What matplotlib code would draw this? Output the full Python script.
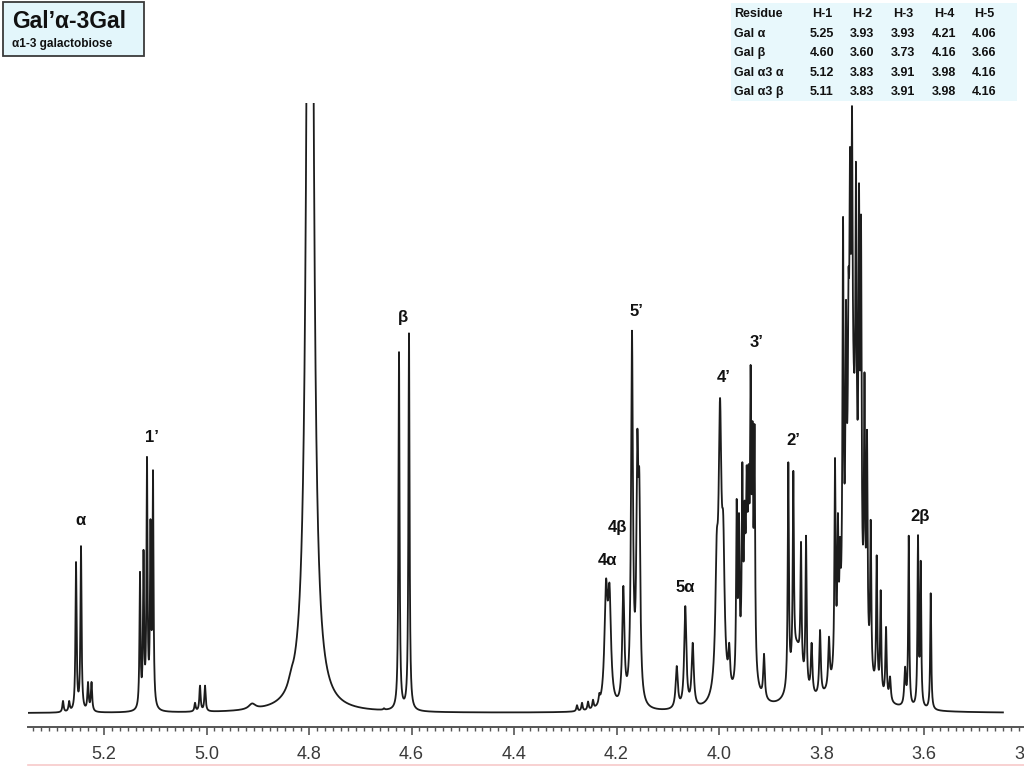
import numpy as np
import matplotlib
matplotlib.use("Agg")
import matplotlib.pyplot as plt
from matplotlib.ticker import MultipleLocator, FormatStrFormatter
from matplotlib.patches import Rectangle
from matplotlib.lines import Line2D

line_ppm = [5.280, 5.268, 5.2546, 5.2449, 5.2312, 5.2244,            # alpha H-1
            5.1298, 5.1229, 5.1161, 5.1093, 5.1044,                    # 1'
            5.0224, 5.0127, 5.0029,
            4.6537, 4.6244, 4.6049,                                    # beta H-1
            4.2771, 4.2673, 4.2556, 4.2459, 4.2336,
            4.2205, 4.2137, 4.1867,                                    # 4a, 4b
            4.1698, 4.1594, 4.1555,                                    # 5'
            4.0825, 4.0658, 4.0513,                                    # 5a
            4.0045, 3.9980, 3.9917, 3.9801,                            # 4'
            3.9655, 3.9610, 3.9545, 3.9500, 3.9460, 3.9422,            # 3'
            3.9383, 3.9346, 3.9307, 3.9122,
            3.8648, 3.8550, 3.8400, 3.8302, 3.8193, 3.8029, 3.7854,    # 2'
            3.7737, 3.7680, 3.7639, 3.7580, 3.7522, 3.7473, 3.7444,    # 3.74 cluster
            3.7405, 3.7327, 3.7268, 3.7229, 3.7161, 3.7112, 3.7040,
            3.6923, 3.6845, 3.6741, 3.6663, 3.6370,
            3.6298, 3.6117, 3.6064, 3.5869]                            # 2b
line_top = [2.3, 2.3, 25.0, 27.6, 5.4, 5.4,
            23.4, 27.0, 42.2, 32.0, 40.0,
            2.0, 4.8, 4.8,
            1.1, 59.3, 62.4,
            1.6, 2.0, 2.2, 2.5, 3.6,
            22.2, 21.5, 21.1,
            62.8, 46.6, 40.0,
            8.0, 17.8, 11.8,
            29.7, 51.8, 32.7, 11.8,
            35.3, 33.0, 41.3, 35.0, 40.8, 41.0,
            57.2, 48.0, 47.5, 10.0,
            41.3, 39.9, 28.3, 29.3, 11.8, 13.9, 12.8,
            42.0, 33.0, 29.1, 81.4, 67.8, 72.7, 92.8,
            99.5, 90.4, 86.9, 81.7, 56.0, 46.6, 31.9,
            26.1, 20.4, 14.4, 6.3, 7.9,
            29.3, 29.4, 25.2, 19.9]
line_hw = [.0015, .0015, .0013, .0013, .0015, .0015,
           .0012, .0012, .0012, .0012, .0012,
           .0015, .0015, .0015,
           .0015, .0013, .0013,
           .0015, .0015, .0015, .0015, .0015,
           .0035, .0035, .0025,
           .0022, .0022, .0022,
           .0025, .0025, .0025,
           .003, .003, .003, .002,
           .0013, .0013, .0013, .0013, .0013, .0013,
           .0013, .0013, .0013, .0018,
           .0013, .0013, .0013, .0013, .0018, .0018, .0018,
           .0013, .0013, .0013, .0013, .0013, .0013, .0013,
           .0013, .0013, .0013, .0013, .0013, .0013, .0013,
           .0013, .0013, .0015, .0018, .0018,
           .0012, .0012, .0012, .0012]

# broad parts: HOD, small humps and the envelopes under the multiplets
env_ppm = [4.798, 4.835, 4.911, 3.998, 3.945, 3.848, 3.740]
env_amp = [250, 1.2, 0.9, 12, 18, 9, 46]
env_hw = [0.0058, 0.006, 0.008, 0.006, 0.009, 0.012, 0.012]
base_level = 0.3

residues = ["Gal α", "Gal β", "Gal α3 α", "Gal α3 β"]
protons = ["H-1", "H-2", "H-3", "H-4", "H-5"]
shifts = [["5.25", "3.93", "3.93", "4.21", "4.06"],
          ["4.60", "3.60", "3.73", "4.16", "3.66"],
          ["5.12", "3.83", "3.91", "3.98", "4.16"],
          ["5.11", "3.83", "3.91", "3.98", "4.16"]]

peak_labels = ["α", "1’", "β", "4α", "4β", "5’", "5α", "4’", "3’", "2’", "2β"]
label_ppm = [5.2468, 5.1063, 4.6166, 4.2185, 4.199, 4.1619, 4.0663, 3.9902, 3.9259, 3.8556, 3.6078]
label_int = [31.7, 45.4, 64.9, 25.2, 30.6, 66.0, 20.8, 55.1, 60.8, 44.8, 32.4]


def lor(x, c, w):
    return w ** 2 / (w ** 2 + (x - c) ** 2)


c = np.array(line_ppm)
w = np.array(line_hw)
top = np.array(line_top)


def envelope(x):
    out = np.full_like(x, base_level, dtype=float)
    for p, a, h in zip(env_ppm, env_amp, env_hw):
        out += a * lor(x, p, h)
    return out


# amplitudes so that the summed spectrum hits the read-off tops
A = lor(c[:, None], c[None, :], w[None, :])
target = top - envelope(c)
amp = np.zeros_like(target)
for it in range(400):
    for i in range(len(amp)):
        r = target[i] - (A[i] @ amp - A[i, i] * amp[i])
        amp[i] = max(r, 0.0)

ppm = np.linspace(5.348, 3.446, 30000)
spec = envelope(ppm)
for ci, ai, wi in zip(c, amp, w):
    spec += ai * lor(ppm, ci, wi)

fig = plt.figure(figsize=(10.24, 7.68), dpi=100)
W, H = 1024, 768
ax = fig.add_axes([28 / W, 1 - 727 / H, (1040 - 28) / W, (727 - 103) / H])
ax.plot(ppm, spec, color="#1c1c1c", lw=1.3)
ax.set_xlim(5.2 + 76 / 512.5, 5.2 - 936 / 512.5)
ax.set_ylim(-12 / 6.12, 100)

for s in ["left", "right", "top"]:
    ax.spines[s].set_visible(False)
ax.spines["bottom"].set_color("#555555")
ax.spines["bottom"].set_linewidth(1.4)
ax.set_yticks([])
ax.xaxis.set_major_locator(MultipleLocator(0.2))
ax.xaxis.set_minor_locator(MultipleLocator(0.2 / 13))
ax.xaxis.set_major_formatter(FormatStrFormatter("%.1f"))
ax.tick_params(axis="x", which="major", direction="out", length=5.5, width=1.2,
               color="#555555", pad=8, labelsize=13, labelcolor="#3a3a3a")
ax.tick_params(axis="x", which="minor", direction="out", length=3, width=1.0, color="#555555")
for t in ax.get_xticklabels():
    t.set_family(["Liberation Sans Narrow", "Liberation Sans", "DejaVu Sans"])

for lab, px_, iy in zip(peak_labels, label_ppm, label_int):
    ax.text(px_, iy, lab, ha="center", va="center", fontsize=12, fontweight="bold",
            family=["Liberation Sans", "DejaVu Sans"], color="#111111")


def fx(x):
    return x / W


def fy(y):
    return 1 - y / H


# title box
fig.add_artist(Rectangle((fx(3), fy(56)), fx(141), 54 / H, transform=fig.transFigure,
                         facecolor="#e3f6fb", edgecolor="#3a3a3a", lw=1.3))
fig.text(fx(12), fy(21), "Gal’α-3Gal", fontsize=16.5, fontweight="bold", va="center",
         family=["Liberation Sans", "DejaVu Sans"], color="#111111")
fig.text(fx(12), fy(44), "α1-3 galactobiose", fontsize=8.5, fontweight="bold", va="center",
         family=["Liberation Sans", "DejaVu Sans"], color="#111111")

# shift table
fig.add_artist(Rectangle((fx(731), fy(101)), fx(286), 98 / H, transform=fig.transFigure,
                         facecolor="#e8f8fc", edgecolor="none"))
col_x = [822, 862, 903, 944, 984]
row_y = [14, 34, 53, 73, 92]
tkw = dict(fontsize=9, fontweight="bold", va="center",
           family=["Liberation Sans", "DejaVu Sans"], color="#111111")
fig.text(fx(734), fy(row_y[0]), "Residue", ha="left", **tkw)
for x, p in zip(col_x, protons):
    fig.text(fx(x), fy(row_y[0]), p, ha="center", **tkw)
for y, r, vals in zip(row_y[1:], residues, shifts):
    fig.text(fx(734), fy(y), r, ha="left", **tkw)
    for x, v in zip(col_x, vals):
        fig.text(fx(x), fy(y), v, ha="center", **tkw)

fig.add_artist(Line2D([fx(28), 1], [fy(765), fy(765)], transform=fig.transFigure,
                      color="#f7c9c9", lw=1.2))

fig.savefig("out.png", dpi=100)
